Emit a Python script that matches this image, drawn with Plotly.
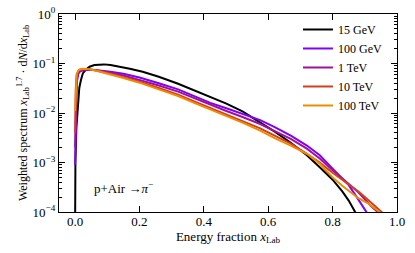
import plotly.graph_objects as go

# ---- data ----
series_names = ["15 GeV", "100 GeV", "1 TeV", "10 TeV", "100 TeV"]
series_colors = ["#000000", "#8000ff", "#a0109a", "#d0401a", "#f08a00"]

x_15gev = [0.0, 0.001, 0.004, 0.008, 0.013, 0.018, 0.024, 0.035, 0.045, 0.06, 0.076, 0.09, 0.11, 0.14, 0.17,
           0.21, 0.26, 0.32, 0.37, 0.42, 0.47, 0.52, 0.575, 0.62, 0.67, 0.72, 0.76, 0.80, 0.83, 0.85, 0.87, 0.88]
y_15gev = [5e-5, 1e-3, 5e-3, 0.0145, 0.032, 0.046, 0.063, 0.077, 0.086, 0.093, 0.096, 0.096, 0.093, 0.086, 0.078,
           0.068, 0.054, 0.039, 0.029, 0.021, 0.0155, 0.0108, 0.0065, 0.0042, 0.0025, 0.0014, 8.0e-4, 4.5e-4,
           2.6e-4, 1.7e-4, 1.0e-4, 8e-5]

x_100gev = [0.0, 0.002, 0.005, 0.01, 0.015, 0.025, 0.04, 0.06, 0.08, 0.11, 0.15, 0.2, 0.26, 0.32, 0.37, 0.42,
            0.47, 0.52, 0.575, 0.62, 0.67, 0.72, 0.76, 0.80, 0.83, 0.85, 0.875, 0.89, 0.905, 0.915]
y_100gev = [9e-4, 0.012, 0.04, 0.062, 0.069, 0.073, 0.075, 0.074, 0.072, 0.068, 0.062, 0.052, 0.040, 0.030,
            0.022, 0.016, 0.0125, 0.0095, 0.0072, 0.0052, 0.0035, 0.0022, 0.0014, 7.5e-4, 4.8e-4, 3.5e-4,
            2.0e-4, 1.4e-4, 1.0e-4, 7e-5]

x_1tev = [0.0, 0.002, 0.005, 0.01, 0.015, 0.025, 0.04, 0.06, 0.08, 0.11, 0.15, 0.2, 0.26, 0.32, 0.37, 0.42,
          0.47, 0.52, 0.575, 0.62, 0.67, 0.72, 0.76, 0.80, 0.83, 0.86, 0.88, 0.90, 0.92, 0.94, 0.95]
y_1tev = [2e-3, 0.02, 0.05, 0.066, 0.072, 0.075, 0.076, 0.074, 0.071, 0.065, 0.057, 0.047, 0.036, 0.027,
          0.0198, 0.0145, 0.011, 0.0083, 0.006, 0.0043, 0.003, 0.0019, 1.2e-3, 7e-4, 4.8e-4, 3.3e-4, 2.5e-4,
          1.8e-4, 1.3e-4, 1.0e-4, 8.5e-5]

x_10tev = [0.0, 0.002, 0.005, 0.01, 0.015, 0.025, 0.04, 0.06, 0.08, 0.11, 0.15, 0.2, 0.26, 0.32, 0.37, 0.42,
           0.47, 0.52, 0.575, 0.62, 0.67, 0.72, 0.76, 0.80, 0.83, 0.86, 0.88, 0.90, 0.92, 0.94, 0.953, 0.96]
y_10tev = [4e-3, 0.03, 0.058, 0.07, 0.075, 0.077, 0.077, 0.074, 0.069, 0.062, 0.053, 0.043, 0.032, 0.0235,
           0.0172, 0.0126, 0.0095, 0.007, 0.0049, 0.0035, 0.0024, 0.0015, 1.0e-3, 6.2e-4, 4.5e-4, 3.3e-4,
           2.6e-4, 2.0e-4, 1.55e-4, 1.15e-4, 1.0e-4, 9e-5]

x_100tev = [0.0, 0.002, 0.005, 0.01, 0.015, 0.025, 0.04, 0.06, 0.08, 0.11, 0.15, 0.2, 0.26, 0.32, 0.37, 0.42,
            0.47, 0.52, 0.575, 0.62, 0.67, 0.72, 0.76, 0.80, 0.83, 0.855, 0.88, 0.91, 0.93, 0.948, 0.955]
y_100tev = [0.011, 0.04, 0.062, 0.072, 0.076, 0.078, 0.077, 0.073, 0.068, 0.060, 0.051, 0.041, 0.030, 0.022,
            0.016, 0.0118, 0.0088, 0.0064, 0.0044, 0.0031, 0.0022, 0.0015, 9.5e-4, 5.0e-4, 3.4e-4, 2.5e-4,
            1.9e-4, 1.5e-4, 1.2e-4, 1.0e-4, 9e-5]

xs = [x_15gev, x_100gev, x_1tev, x_10tev, x_100tev]
ys = [y_15gev, y_100gev, y_1tev, y_10tev, y_100tev]

x_tick_vals = [0.0, 0.2, 0.4, 0.6, 0.8, 1.0]
x_tick_text = ["0.0", "0.2", "0.4", "0.6", "0.8", "1.0"]
y_tick_vals = [1e-4, 1e-3, 1e-2, 1e-1, 1e0]
y_tick_text = ["10<sup>−4</sup>", "10<sup>−3</sup>", "10<sup>−2</sup>", "10<sup>−1</sup>", "10<sup>0</sup>"]
y_minor_vals = [m * 10.0 ** e for e in range(-4, 0) for m in range(2, 10)]

FONT = "'Liberation Serif', 'Times New Roman', Times, serif"

fig = go.Figure()
for name, color, x, y in zip(series_names, series_colors, xs, ys):
    fig.add_trace(go.Scatter(x=x, y=y, mode="lines", name=name,
                             line=dict(color=color, width=2)))

fig.add_annotation(x=0.054, y=-3.52, xref="x", yref="y", xanchor="left", yanchor="middle",
                   text="p+Air →<i>π</i><sup>−</sup>", showarrow=False,
                   font=dict(family=FONT, size=13, color="black"))

axis_common = dict(showline=True, linecolor="black", linewidth=1.2, mirror="ticks",
                   ticks="inside", ticklen=6, tickwidth=1, tickcolor="black",
                   showgrid=False, zeroline=False, automargin=False,
                   tickfont=dict(family=FONT, size=13, color="black"))

fig.update_xaxes(range=[-0.05, 1.0], tickvals=x_tick_vals, ticktext=x_tick_text,
                 ticklabelstandoff=-3,
                 title=dict(text="Energy fraction <i>x</i><sub>Lab</sub>",
                            font=dict(family=FONT, size=13, color="black"), standoff=0),
                 **axis_common)
fig.update_yaxes(type="log", range=[-4, 0], tickvals=y_tick_vals, ticktext=y_tick_text,
                 minor=dict(ticks="inside", ticklen=3, tickwidth=1, tickcolor="black",
                            tickvals=y_minor_vals, showgrid=False),
                 title=dict(text="Weighted spectrum <i>x</i><sub>Lab</sub><sup>1.7</sup> · d<i>N</i>/d<i>x</i><sub>Lab</sub>",
                            font=dict(family=FONT, size=12, color="black"), standoff=2),
                 **axis_common)

fig.update_layout(
    width=415, height=253,
    margin=dict(l=59, r=18, t=14, b=41),
    paper_bgcolor="white", plot_bgcolor="white",
    showlegend=True,
    legend=dict(x=0.707, y=0.995, xanchor="left", yanchor="top",
                bgcolor="rgba(0,0,0,0)", borderwidth=0,
                font=dict(family=FONT, size=12, color="black")),
)

fig.write_html("out.html", config={"displayModeBar": False},
               post_script="document.body.style.margin='0';document.body.style.overflow='hidden';")
